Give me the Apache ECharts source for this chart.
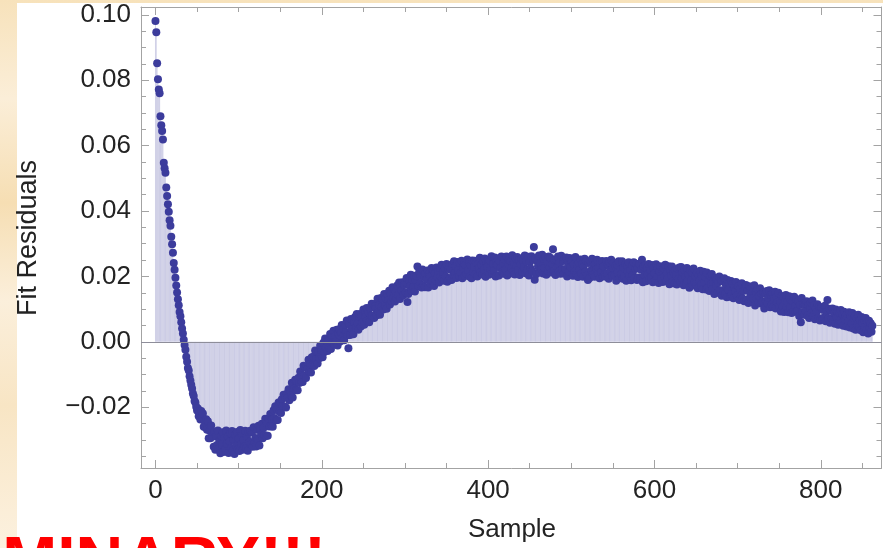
<!DOCTYPE html>
<html>
<head>
<meta charset="utf-8">
<script src="https://cdn.jsdelivr.net/npm/echarts@6/dist/echarts.min.js"></script>
<style>
  html, body { margin: 0; padding: 0; width: 883px; height: 548px; overflow: hidden; }
  body {
    position: relative;
    background: linear-gradient(180deg, #f7e2bb 0%, #fbeed8 18%, #f6deb3 37%, #fbefdb 55%, #f8e5c4 74%, #fcf1df 100%);
  }
  #sheet { position: absolute; left: 17px; top: 3px; right: 0; bottom: 0; background: #ffffff; }
  #chart { position: absolute; left: 0; top: 0; width: 883px; height: 548px; }
</style>
</head>
<body>
<div id="sheet"></div>
<div id="chart"></div>
<script>
// Fit residuals, one value per sample (sample index = array position)
const residuals = [
  0.0981, 0.0947, 0.0852, 0.0803, 0.0772, 0.0760, 0.0690, 0.0662, 0.0645, 0.0619,
  0.0548, 0.0531, 0.0517, 0.0472, 0.0446, 0.0421, 0.0398, 0.0372, 0.0355, 0.0321,
  0.0298, 0.0272, 0.0241, 0.0220, 0.0196, 0.0172, 0.0151, 0.0130, 0.0112, 0.0091,
  0.0078, 0.0060, 0.0041, 0.0025, 0.0006, -0.0010, -0.0024, -0.0046, -0.0061, -0.0080,
  -0.0088, -0.0105, -0.0118, -0.0131, -0.0143, -0.0158, -0.0166, -0.0181, -0.0186, -0.0199,
  -0.0210, -0.0204, -0.0228, -0.0212, -0.0238, -0.0212, -0.0234, -0.0219, -0.0260, -0.0242,
  -0.0261, -0.0237, -0.0269, -0.0243, -0.0295, -0.0271, -0.0295, -0.0256, -0.0290, -0.0277,
  -0.0321, -0.0275, -0.0330, -0.0290, -0.0316, -0.0271, -0.0327, -0.0302, -0.0341, -0.0288,
  -0.0314, -0.0277, -0.0337, -0.0295, -0.0328, -0.0271, -0.0311, -0.0290, -0.0340, -0.0305,
  -0.0280, -0.0325, -0.0273, -0.0333, -0.0299, -0.0343, -0.0285, -0.0318, -0.0276, -0.0329,
  -0.0296, -0.0334, -0.0270, -0.0313, -0.0286, -0.0330, -0.0300, -0.0321, -0.0272, -0.0325,
  -0.0291, -0.0333, -0.0276, -0.0306, -0.0272, -0.0314, -0.0277, -0.0321, -0.0261, -0.0307,
  -0.0294, -0.0320, -0.0269, -0.0297, -0.0257, -0.0317, -0.0267, -0.0284, -0.0251, -0.0295,
  -0.0263, -0.0285, -0.0235, -0.0288, -0.0249, -0.0287, -0.0235, -0.0259, -0.0221, -0.0258,
  -0.0237, -0.0260, -0.0209, -0.0233, -0.0197, -0.0240, -0.0207, -0.0239, -0.0186, -0.0214,
  -0.0184, -0.0218, -0.0176, -0.0196, -0.0162, -0.0198, -0.0170, -0.0201, -0.0159, -0.0171,
  -0.0145, -0.0179, -0.0152, -0.0165, -0.0125, -0.0170, -0.0129, -0.0143, -0.0116, -0.0148,
  -0.0120, -0.0148, -0.0110, -0.0126, -0.0091, -0.0123, -0.0103, -0.0123, -0.0073, -0.0103,
  -0.0077, -0.0111, -0.0075, -0.0083, -0.0055, -0.0092, -0.0067, -0.0094, -0.0047, -0.0071,
  -0.0046, -0.0074, -0.0027, -0.0054, -0.0030, -0.0066, -0.0032, -0.0050, -0.0012, -0.0038,
  -0.0025, -0.0047, -0.0003, -0.0031, 0.0010, -0.0019, 0.0002, -0.0028, 0.0004, -0.0018,
  0.0024, -0.0022, 0.0019, -0.0002, 0.0034, -0.0008, 0.0016, 0.0001, 0.0037, -0.0011,
  0.0027, 0.0038, 0.0001, 0.0027, 0.0051, 0.0014, 0.0040, 0.0005, 0.0052, 0.0030,
  0.0065, 0.0020, -0.0020, 0.0055, 0.0021, 0.0070, 0.0039, 0.0066, 0.0023, 0.0060,
  0.0076, 0.0042, 0.0085, 0.0056, 0.0037, 0.0076, 0.0085, 0.0047, 0.0077, 0.0060,
  0.0099, 0.0052, 0.0090, 0.0076, 0.0103, 0.0064, 0.0090, 0.0060, 0.0104, 0.0080,
  0.0116, 0.0080, 0.0115, 0.0073, 0.0109, 0.0101, 0.0081, 0.0132, 0.0090, 0.0112,
  0.0083, 0.0134, 0.0107, 0.0131, 0.0099, 0.0146, 0.0110, 0.0133, 0.0101, 0.0146,
  0.0127, 0.0156, 0.0114, 0.0147, 0.0124, 0.0167, 0.0134, 0.0160, 0.0123, 0.0153,
  0.0133, 0.0173, 0.0143, 0.0181, 0.0131, 0.0172, 0.0157, 0.0182, 0.0142, 0.0174,
  0.0182, 0.0151, 0.0195, 0.0122, 0.0146, 0.0188, 0.0169, 0.0205, 0.0155, 0.0188,
  0.0167, 0.0202, 0.0154, 0.0187, 0.0201, 0.0230, 0.0171, 0.0213, 0.0179, 0.0201,
  0.0166, 0.0221, 0.0172, 0.0199, 0.0167, 0.0209, 0.0191, 0.0218, 0.0166, 0.0207,
  0.0199, 0.0177, 0.0226, 0.0187, 0.0219, 0.0171, 0.0210, 0.0187, 0.0227, 0.0199,
  0.0218, 0.0181, 0.0226, 0.0199, 0.0236, 0.0191, 0.0213, 0.0187, 0.0225, 0.0200,
  0.0238, 0.0184, 0.0223, 0.0232, 0.0194, 0.0221, 0.0189, 0.0238, 0.0204, 0.0246,
  0.0211, 0.0232, 0.0195, 0.0244, 0.0218, 0.0202, 0.0241, 0.0211, 0.0248, 0.0194,
  0.0227, 0.0239, 0.0201, 0.0235, 0.0208, 0.0252, 0.0218, 0.0243, 0.0199, 0.0234,
  0.0194, 0.0249, 0.0214, 0.0229, 0.0248, 0.0207, 0.0242, 0.0200, 0.0238, 0.0224,
  0.0257, 0.0212, 0.0236, 0.0206, 0.0247, 0.0220, 0.0255, 0.0199, 0.0243, 0.0229,
  0.0250, 0.0205, 0.0249, 0.0222, 0.0262, 0.0211, 0.0238, 0.0217, 0.0258, 0.0200,
  0.0243, 0.0234, 0.0255, 0.0203, 0.0246, 0.0226, 0.0261, 0.0214, 0.0240, 0.0208,
  0.0252, 0.0221, 0.0261, 0.0203, 0.0239, 0.0252, 0.0209, 0.0246, 0.0225, 0.0265,
  0.0214, 0.0243, 0.0206, 0.0256, 0.0231, 0.0259, 0.0218, 0.0250, 0.0204, 0.0237,
  0.0255, 0.0214, 0.0249, 0.0229, 0.0264, 0.0210, 0.0246, 0.0219, 0.0260, 0.0203,
  0.0243, 0.0224, 0.0262, 0.0216, 0.0251, 0.0290, 0.0190, 0.0255, 0.0207, 0.0247,
  0.0231, 0.0264, 0.0213, 0.0241, 0.0222, 0.0266, 0.0209, 0.0253, 0.0226, 0.0259,
  0.0205, 0.0245, 0.0218, 0.0261, 0.0228, 0.0256, 0.0212, 0.0238, 0.0283, 0.0215,
  0.0250, 0.0204, 0.0252, 0.0229, 0.0261, 0.0215, 0.0242, 0.0208, 0.0263, 0.0222,
  0.0247, 0.0209, 0.0254, 0.0223, 0.0258, 0.0200, 0.0243, 0.0216, 0.0256, 0.0228,
  0.0248, 0.0249, 0.0202, 0.0237, 0.0214, 0.0259, 0.0207, 0.0234, 0.0198, 0.0243,
  0.0220, 0.0252, 0.0209, 0.0238, 0.0199, 0.0230, 0.0254, 0.0214, 0.0246, 0.0203,
  0.0189, 0.0241, 0.0195, 0.0247, 0.0219, 0.0254, 0.0205, 0.0234, 0.0199, 0.0238,
  0.0223, 0.0251, 0.0209, 0.0227, 0.0194, 0.0241, 0.0213, 0.0247, 0.0200, 0.0230,
  0.0206, 0.0200, 0.0247, 0.0210, 0.0236, 0.0193, 0.0242, 0.0217, 0.0251, 0.0202,
  0.0227, 0.0242, 0.0203, 0.0231, 0.0187, 0.0236, 0.0212, 0.0246, 0.0194, 0.0221,
  0.0207, 0.0246, 0.0193, 0.0227, 0.0199, 0.0239, 0.0187, 0.0231, 0.0214, 0.0243,
  0.0202, 0.0220, 0.0188, 0.0234, 0.0205, 0.0243, 0.0194, 0.0223, 0.0239, 0.0189,
  0.0226, 0.0197, 0.0238, 0.0191, 0.0220, 0.0251, 0.0182, 0.0230, 0.0204, 0.0234,
  0.0185, 0.0224, 0.0206, 0.0238, 0.0191, 0.0220, 0.0197, 0.0235, 0.0182, 0.0226,
  0.0209, 0.0186, 0.0237, 0.0199, 0.0226, 0.0180, 0.0215, 0.0231, 0.0193, 0.0220,
  0.0183, 0.0225, 0.0199, 0.0236, 0.0185, 0.0209, 0.0193, 0.0231, 0.0176, 0.0220,
  0.0202, 0.0230, 0.0184, 0.0211, 0.0178, 0.0219, 0.0204, 0.0175, 0.0224, 0.0192,
  0.0227, 0.0183, 0.0229, 0.0194, 0.0212, 0.0173, 0.0220, 0.0198, 0.0178, 0.0226,
  0.0186, 0.0205, 0.0165, 0.0219, 0.0188, 0.0211, 0.0172, 0.0224, 0.0184, 0.0201,
  0.0177, 0.0211, 0.0164, 0.0203, 0.0187, 0.0217, 0.0172, 0.0200, 0.0161, 0.0214,
  0.0181, 0.0198, 0.0160, 0.0212, 0.0167, 0.0186, 0.0155, 0.0201, 0.0176, 0.0207,
  0.0162, 0.0185, 0.0146, 0.0196, 0.0173, 0.0191, 0.0150, 0.0182, 0.0200, 0.0158,
  0.0187, 0.0141, 0.0186, 0.0156, 0.0194, 0.0147, 0.0172, 0.0136, 0.0189, 0.0159,
  0.0180, 0.0138, 0.0186, 0.0146, 0.0177, 0.0133, 0.0168, 0.0155, 0.0183, 0.0142,
  0.0170, 0.0170, 0.0128, 0.0161, 0.0139, 0.0179, 0.0132, 0.0156, 0.0124, 0.0167,
  0.0174, 0.0128, 0.0156, 0.0119, 0.0170, 0.0137, 0.0164, 0.0123, 0.0151, 0.0133,
  0.0173, 0.0111, 0.0152, 0.0133, 0.0161, 0.0120, 0.0139, 0.0164, 0.0117, 0.0148,
  0.0123, 0.0151, 0.0102, 0.0147, 0.0124, 0.0155, 0.0117, 0.0134, 0.0158, 0.0106,
  0.0143, 0.0115, 0.0147, 0.0106, 0.0133, 0.0153, 0.0102, 0.0138, 0.0121, 0.0150,
  0.0109, 0.0125, 0.0093, 0.0140, 0.0108, 0.0136, 0.0091, 0.0128, 0.0143, 0.0106,
  0.0121, 0.0090, 0.0139, 0.0104, 0.0127, 0.0088, 0.0123, 0.0095, 0.0138, 0.0109,
  0.0092, 0.0129, 0.0094, 0.0125, 0.0079, 0.0113, 0.0060, 0.0134, 0.0091, 0.0116,
  0.0083, 0.0115, 0.0093, 0.0124, 0.0080, 0.0112, 0.0073, 0.0103, 0.0120, 0.0088,
  0.0126, 0.0079, 0.0111, 0.0069, 0.0102, 0.0092, 0.0115, 0.0073, 0.0107, 0.0065,
  0.0104, 0.0106, 0.0068, 0.0097, 0.0074, 0.0110, 0.0063, 0.0092, 0.0128, 0.0071,
  0.0101, 0.0058, 0.0096, 0.0071, 0.0102, 0.0065, 0.0088, 0.0055, 0.0099, 0.0076,
  0.0091, 0.0052, 0.0089, 0.0066, 0.0097, 0.0058, 0.0084, 0.0049, 0.0092, 0.0070,
  0.0081, 0.0047, 0.0085, 0.0062, 0.0090, 0.0044, 0.0079, 0.0056, 0.0088, 0.0041,
  0.0073, 0.0080, 0.0037, 0.0071, 0.0052, 0.0083, 0.0045, 0.0066, 0.0035, 0.0076,
  0.0058, 0.0029, 0.0068, 0.0044, 0.0073, 0.0036, 0.0061, 0.0025, 0.0064, 0.0040,
  0.0057, 0.0031, 0.0049
];

// Axis extents and tick positions
const xRange = [-17.4, 873];
const yRange = [-0.0386, 0.1024];
const xMajorTicks = [0, 200, 400, 600, 800];
const xMinorTicks = [50, 100, 150, 250, 300, 350, 450, 500, 550, 650, 700, 750, 850];
const yMajorTicks = [-0.02, 0, 0.02, 0.04, 0.06, 0.08, 0.10];
const yMinorTicks = [-0.035, -0.03, -0.025, -0.015, -0.01, -0.005, 0.005, 0.01, 0.015,
  0.025, 0.03, 0.035, 0.045, 0.05, 0.055, 0.065, 0.07, 0.075, 0.085, 0.09, 0.095];

const xTitle = 'Sample';
const yTitle = 'Fit Residuals';
const stamp = 'PRELIMINARY!!!';

const points = residuals.map((v, i) => [i, v]);

const FRAME = '#a3a3a3';
const TEXT = '#232323';
const FONT = '"Liberation Sans", Arial, Helvetica, sans-serif';

// One frame edge: either the visible line with major ticks (+labels), or minor ticks only
function edge(kind, position, range, ticks, tickLen, withLine, labels) {
  const ax = {
    type: 'value',
    position: position,
    min: range[0],
    max: range[1],
    gridIndex: 0,
    splitLine: { show: false },
    axisLine: { show: withLine, onZero: false, lineStyle: { color: FRAME, width: 1 } },
    axisTick: { show: true, inside: true, length: tickLen, customValues: ticks,
                lineStyle: { color: FRAME, width: 1 } },
    axisLabel: { show: false }
  };
  if (labels) {
    ax.axisLabel = {
      show: true,
      customValues: ticks,
      color: TEXT,
      fontFamily: FONT,
      fontSize: 26,
      margin: 10,
      formatter: kind === 'x'
        ? (v) => String(Math.round(v))
        : (v) => (v < 0 ? '\u2212' : '') + Math.abs(v).toFixed(2)
    };
  }
  return ax;
}

const chart = echarts.init(document.getElementById('chart'), null, { renderer: 'canvas' });

chart.setOption({
  animation: false,
  backgroundColor: 'transparent',
  grid: { left: 141, right: 1.5, top: 7, bottom: 80, containLabel: false, outerBoundsMode: 'none' },
  xAxis: [
    edge('x', 'bottom', xRange, xMajorTicks, 8, true, true),
    edge('x', 'bottom', xRange, xMinorTicks, 5, false, false),
    edge('x', 'top', xRange, xMajorTicks, 8, true, false),
    edge('x', 'top', xRange, xMinorTicks, 5, false, false)
  ],
  yAxis: [
    edge('y', 'left', yRange, yMajorTicks, 8, true, true),
    edge('y', 'left', yRange, yMinorTicks, 5, false, false),
    edge('y', 'right', yRange, yMajorTicks, 8, true, false),
    edge('y', 'right', yRange, yMinorTicks, 5, false, false)
  ],
  series: [
    {
      // filling from each point down/up to the axis
      type: 'bar',
      xAxisIndex: 0,
      yAxisIndex: 0,
      data: points,
      barWidth: 1,
      z: 1,
      silent: true,
      itemStyle: { color: 'rgba(60,60,156,0.21)' },
      markLine: {
        silent: true,
        symbol: 'none',
        label: { show: false },
        lineStyle: { color: '#8e8e9a', width: 1.2, type: 'solid' },
        data: [{ yAxis: 0 }]
      }
    },
    {
      type: 'scatter',
      xAxisIndex: 0,
      yAxisIndex: 0,
      data: points,
      symbol: 'circle',
      symbolSize: 8,
      z: 3,
      itemStyle: { color: '#3c3c9c', opacity: 1 }
    }
  ],
  graphic: [
    {
      type: 'text', x: 29, y: 238, rotation: Math.PI / 2, z: 10,
      style: { text: yTitle, fill: TEXT, font: '27px ' + FONT, align: 'center', verticalAlign: 'middle' }
    },
    {
      type: 'text', x: 512, y: 530, z: 10,
      style: { text: xTitle, fill: TEXT, font: '26px ' + FONT, align: 'center', verticalAlign: 'middle' }
    },
    {
      type: 'text', x: 326, y: 565, z: 20,
      style: { text: stamp, fill: '#ff0000', font: 'bold 66px ' + FONT, align: 'right', verticalAlign: 'middle' }
    }
  ]
});
</script>
</body>
</html>
